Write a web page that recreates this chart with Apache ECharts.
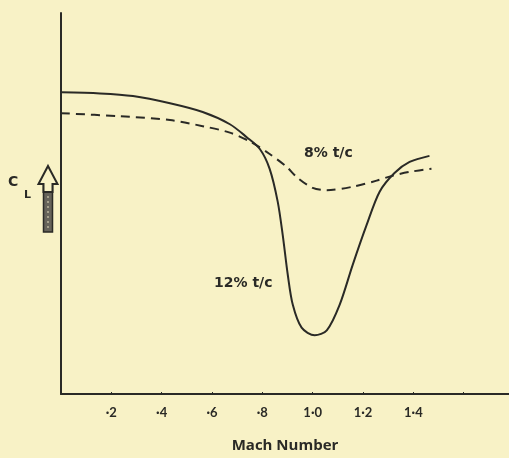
<!DOCTYPE html>
<html>
<head>
<meta charset="utf-8">
<script src="https://cdn.jsdelivr.net/npm/echarts@6/dist/echarts.min.js"></script>
<style>
  html, body { margin: 0; padding: 0; background: #f8f2c6; }
  #main { width: 509px; height: 458px; }
</style>
</head>
<body>
<div id="main"></div>
<script>
// Mach number vs lift coefficient (relative units)
const xTicks = [0.2, 0.4, 0.6, 0.8, 1.0, 1.2, 1.4]
const tickLabels = ['·2', '·4', '·6', '·8', '1·0', '1·2', '1·4']

const mach12 = [0, 0.155, 0.286, 0.433, 0.563, 0.671, 0.738, 0.79, 0.829, 0.861, 0.881, 0.901,
    0.921, 0.956, 1.008, 1.056, 1.107, 1.159, 1.214, 1.266, 1.325, 1.385, 1.464]
const cl12 = [79.2, 78.9, 78.2, 76.3, 74.0, 70.8, 67.4, 64.3, 59.1, 50.5, 41.7, 31.3,
    23.4, 17.4, 15.4, 16.7, 23.4, 33.9, 44.3, 53.1, 58.0, 60.9, 62.5]

const mach8 = [0, 0.234, 0.433, 0.563, 0.671, 0.75, 0.829, 0.897, 0.937, 1.0, 1.056, 1.159,
    1.254, 1.317, 1.385, 1.472]
const cl8 = [73.7, 72.9, 71.9, 70.3, 68.6, 66.3, 63.0, 59.6, 56.9, 54.1, 53.5, 54.4,
    56.0, 57.3, 58.3, 59.1]

const ink = '#2a2a26'
const bg = '#f8f2c6'

let myChart = echarts.init(document.getElementById('main'))

let option = {
    backgroundColor: bg,
    animation: false,
    grid: {left: 61, top: 13, right: 0, bottom: 61},
    xAxis: {
        type: 'value',
        min: 0,
        max: 1.78,
        interval: 0.2,
        name: 'Mach Number',
        nameLocation: 'middle',
        nameGap: 44,
        nameTextStyle: {color: ink, fontFamily: 'Open Sans', fontSize: 15, fontWeight: 'bold'},
        splitLine: {show: false},
        axisLine: {lineStyle: {color: ink, width: 2}},
        axisTick: {show: true, length: 2, inside: true, lineStyle: {color: ink}},
        axisLabel: {
            color: ink, fontFamily: 'Lato', fontSize: 13, fontWeight: 'bold', margin: 12,
            showMaxLabel: false,
            formatter: v => {
                let i = xTicks.findIndex(t => Math.abs(t - v) < 1e-6)
                return i >= 0 ? tickLabels[i] : ''
            }
        }
    },
    yAxis: {
        type: 'value',
        min: 0,
        max: 100,
        splitLine: {show: false},
        axisLine: {show: true, lineStyle: {color: ink, width: 2}},
        axisTick: {show: false},
        axisLabel: {show: false}
    },
    graphic: [
        {type: 'text', left: 214, top: 276,
            style: {text: '12% t/c', fill: ink, font: 'bold 14px "DejaVu Sans"'}},
        {type: 'text', left: 304, top: 146,
            style: {text: '8% t/c', fill: ink, font: 'bold 14px "DejaVu Sans"'}},
        {type: 'text', left: 8, top: 175,
            style: {text: 'C', fill: ink, font: 'bold 14px "DejaVu Sans"'}},
        {type: 'text', left: 24, top: 190,
            style: {text: 'L', fill: ink, font: 'bold 11px "DejaVu Sans"'}},
        {type: 'rect', shape: {x: 43.5, y: 183, width: 9, height: 49},
            style: {fill: '#66635a', stroke: ink, lineWidth: 1.5}},
        {type: 'line', shape: {x1: 48, y1: 186, x2: 48, y2: 229},
            style: {stroke: '#b9b49a', lineWidth: 1.5, lineDash: [2, 3]}},
        {type: 'polygon',
            shape: {points: [[48, 166], [57.5, 184], [52.5, 184], [52.5, 192], [43.5, 192], [43.5, 184], [38.5, 184]]},
            style: {fill: bg, stroke: ink, lineWidth: 2}}
    ],
    series: [
        {
            name: '12% t/c',
            type: 'line',
            smooth: 0.3,
            showSymbol: false,
            data: mach12.map((m, i) => [m, cl12[i]]),
            lineStyle: {color: ink, width: 2}
        },
        {
            name: '8% t/c',
            type: 'line',
            smooth: 0.3,
            showSymbol: false,
            data: mach8.map((m, i) => [m, cl8[i]]),
            lineStyle: {color: ink, width: 2, type: [9, 6]}
        }
    ]
}

myChart.setOption(option)
</script>
</body>
</html>
